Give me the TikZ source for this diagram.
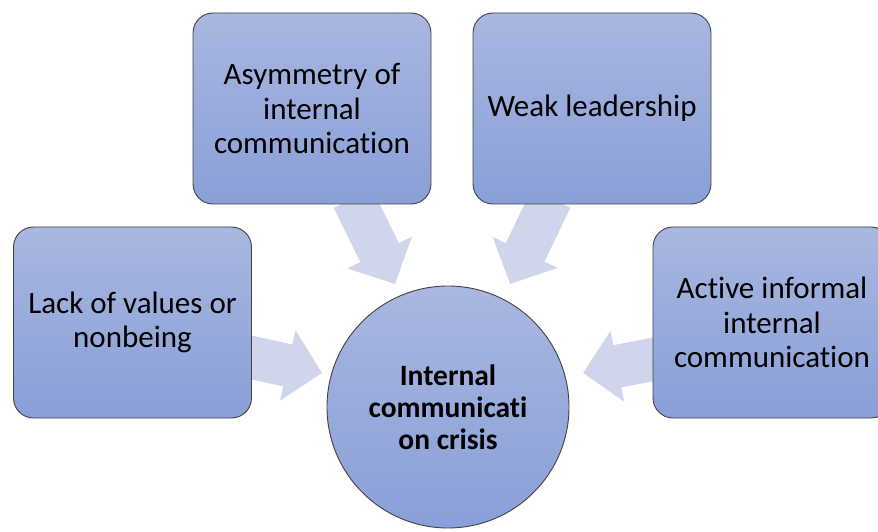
\documentclass[tikz,border=0pt]{standalone}
\usepackage{fontspec}
\setmainfont{Carlito}[RawFeature=-liga]
\usetikzlibrary{arrows.meta,backgrounds}
\definecolor{boxtop}{RGB}{169,183,224}
\definecolor{boxbot}{RGB}{137,159,216}
\definecolor{boxline}{RGB}{66,66,66}
\definecolor{flowcol}{RGB}{207,214,235}
\begin{document}
\begin{tikzpicture}[x=1pt,y=1pt,
  cause/.style={draw=boxline,line width=0.9pt,rounded corners=20pt,top color=boxtop,bottom color=boxbot,
    minimum width=238pt,minimum height=191pt,inner sep=0pt,align=center,font=\fontsize{31}{34.5}\selectfont},
  crisisnode/.style={circle,draw=boxline,line width=0.9pt,top color=boxtop,bottom color=boxbot,
    minimum size=242pt,inner sep=0pt,align=center,font=\fontsize{29.5}{32}\selectfont\bfseries},
  flow/.style={draw=flowcol,line width=43pt,-{Triangle[width=70pt,length=35pt]}}]
  \useasboundingbox (0,0) rectangle (878,531);
  \clip (0,0) rectangle (878,531);

  % causes and the crisis
  \node[cause] (asym) at (312,422.5) {Asymmetry of\\internal\\communication};
  \node[cause] (weak) at (592,422.5) {Weak leadership};
  \node[cause] (lack) at (132.5,208.5) {Lack of values or\\nonbeing};
  \node[cause] (active) at (772,208.5) {Active informal\\internal\\communication};
  \node[crisisnode] (crisis) at (448,124) {Internal\\communicati\\on crisis};

  % arrow tips near the circle
  \coordinate (t1) at (395,247);
  \coordinate (t2) at (510,247);
  \coordinate (t3) at (322,158);
  \coordinate (t4) at (583,158);

  % block arrows
  \begin{pgfonlayer}{background}
    \draw[flow] ([xshift=41pt,yshift=6pt]asym.south) -- (t1);
    \draw[flow] ([xshift=-41pt,yshift=6pt]weak.south) -- (t2);
    \draw[flow] ([xshift=-5pt,yshift=-34pt]lack.east) -- (t3);
    \draw[flow] ([xshift=5pt,yshift=-36pt]active.west) -- (t4);
  \end{pgfonlayer}
\end{tikzpicture}
\end{document}
